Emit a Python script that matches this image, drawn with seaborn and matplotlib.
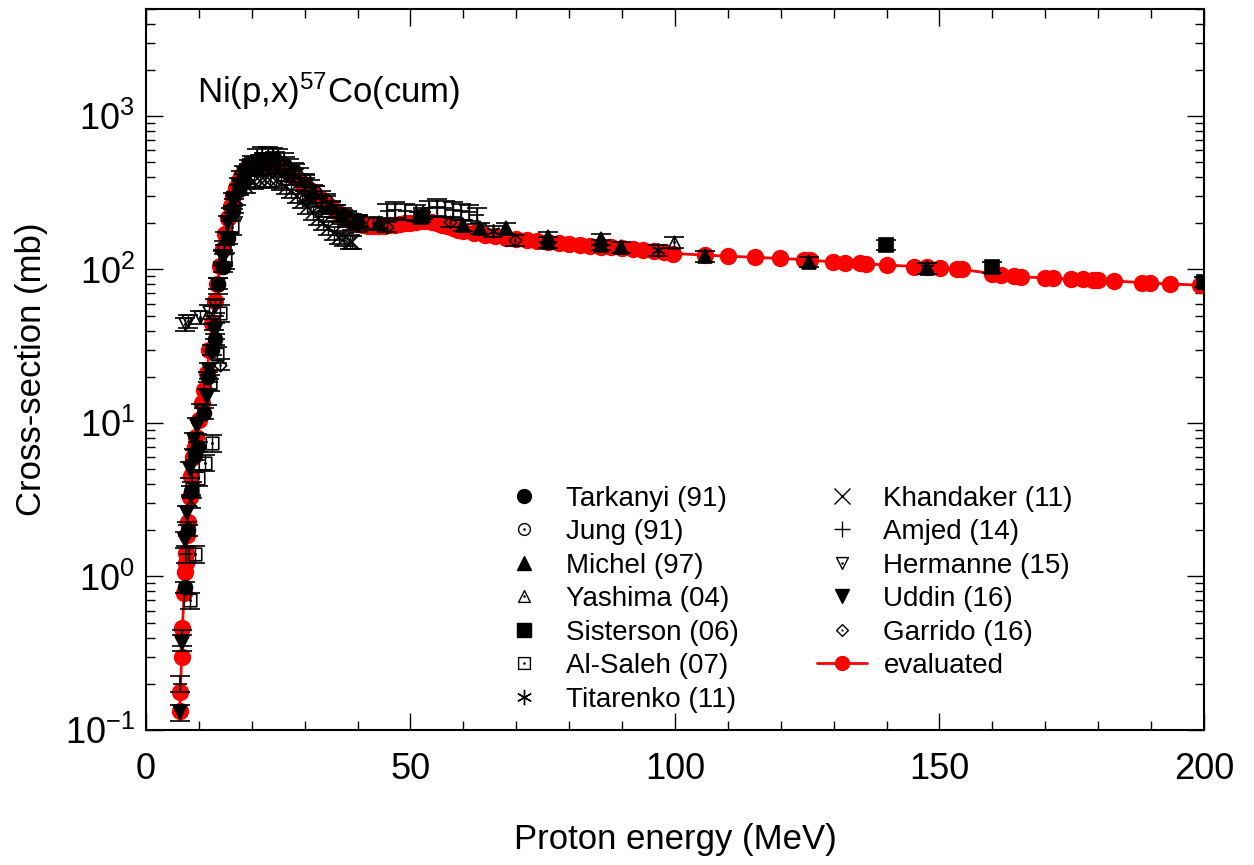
import numpy as np
import pandas as pd
import matplotlib.pyplot as plt
import seaborn as sns
from matplotlib.path import Path
from matplotlib.markers import MarkerStyle
from matplotlib.lines import Line2D
from matplotlib.ticker import MultipleLocator, LogLocator, NullFormatter

# ------------ evaluated curve --------------
eval_E = [6.4, 6.5, 6.75, 6.9, 7.2, 7.4, 7.5, 7.6, 7.8, 8.0, 8.3, 8.6, 8.9, 9.2, 9.5,
          10.0, 10.5, 11.0, 11.5, 12.0, 12.5, 13.0, 13.5, 14.0, 14.5, 15.0, 15.5, 16.0,
          16.5, 17.0, 17.5, 18.0, 18.5, 19.0, 19.5, 20.0, 20.5, 21.0, 21.5, 22.0, 22.5,
          23.0, 23.5, 24.0, 24.5, 25.0, 25.5, 26.0, 26.5, 27.0, 27.5, 28.0, 28.5, 29.0,
          29.5, 30, 31, 32, 33, 34, 35, 36, 37, 38, 39, 40, 41, 42, 43, 44, 45, 46, 47,
          48, 49, 50, 51, 52, 53, 54, 55, 56, 57, 58, 59, 60, 62, 64, 66, 68, 70, 72, 74,
          76, 78, 80, 82, 84, 86, 88, 90, 92, 94, 96, 98, 99.7, 105.7, 110.1, 115.1,
          119.8, 124.3, 125.5, 129.9, 132.1, 135.0, 136.2, 140.0, 145.1, 147.6, 150.1,
          153.3, 154.2, 160.0, 161.6, 164.0, 165.5, 169.9, 171.5, 174.9, 177.2, 179.1,
          180.0, 182.9, 188.2, 189.8, 193.6, 199.2]
eval_xs = [0.132, 0.178, 0.298, 0.465, 0.78, 1.07, 1.22, 1.42, 1.86, 2.27, 3.3, 4.5, 6.0,
           7.0, 8.1, 10.5, 13.4, 16.5, 21, 30, 45, 62, 80, 105, 135, 170, 215, 260, 300,
           340, 375, 405, 430, 450, 465, 475, 483, 488, 492, 494, 495, 494, 491, 487, 482,
           475, 467, 458, 447, 435, 422, 408, 394, 380, 366, 352, 327, 305, 287, 272, 255,
           240, 225, 213, 204, 198, 194, 192, 191, 191, 192, 194, 196, 198, 200, 202, 204,
           206, 207, 205, 201, 196, 191, 186, 182, 178, 172, 168, 164, 161, 158, 156, 153,
           151, 149, 147, 145, 143, 141, 139, 137, 135, 133, 131, 129, 127, 124, 122, 120,
           118, 116, 115, 112, 110.5, 109.5, 108.5, 107, 104.5, 103.5, 102, 100.5, 100,
           94, 92.5, 91, 89.5, 88.2, 87.5, 86.6, 86.2, 85.3, 85.0, 84.2, 82.1, 81.8, 80.3,
           79.2]

# ------------ experimental data --------------
tarkanyi_E = [7.3, 8.0, 8.6, 9.3, 9.9, 10.9, 11.8, 12.5, 13.0, 13.6, 14.6, 15.5, 16.5, 17.5, 18.5, 19.5, 20.5]
tarkanyi_xs = [0.85, 2.0, 3.6, 6.2, 7.0, 11.6, 20, 30, 35, 81, 104, 160, 240, 330, 390, 450, 470]
jung_E = [14.8, 16.7, 18.6, 20.5, 22.4, 24.3, 26.2, 28.2, 30.1, 32.0, 34.0, 36.0, 38.0, 40.0, 43.0]
jung_xs = [140, 260, 380, 470, 520, 530, 490, 440, 380, 320, 280, 240, 215, 205, 200]
michel_E = [27.3, 31.5, 35.0, 37.3, 40.1, 44.0, 52.4, 60.0, 63.1, 68.1, 76.0, 76.0, 86.0, 86.0, 89.8, 105.7, 125.4, 147.7]
michel_xs = [440, 330, 255, 225, 209, 200, 232, 194, 185, 185, 163, 150, 158, 145, 140, 122, 112, 102]
yashima_E = [99.9]
yashima_xs = [151]
sisterson_E = [52.0, 139.9, 160.0, 200.0]
sisterson_xs = [220, 145, 103, 83]
alsaleh_E = [8.4, 8.7, 9.3, 9.9, 11.1, 12.1, 12.4, 13.4, 14.0, 14.9, 16.3]
alsaleh_xs = [0.70, 3.7, 1.40, 4.4, 5.5, 18.3, 7.4, 28, 52, 115, 190]
titarenko_E = [30.6, 33.2, 65.6, 96.8, 147.7]
titarenko_xs = [290, 250, 178, 134, 102]
khandaker_E = [8.6, 10.4, 12.8, 15.0, 17.0, 19.0, 20.5, 21.5, 22.5, 23.5, 24.5, 25.5, 26.5,
               27.5, 28.5, 29.5, 30.5, 31.5, 32.5, 33.5, 34.5, 35.5, 36.5, 37.5, 38.5, 39.0]
khandaker_xs = [3.1, 12, 45, 160, 290, 350, 370, 375, 385, 380, 375, 365, 345, 325, 300,
                280, 255, 235, 215, 200, 185, 172, 163, 157, 152, 150]
amjed_E = [6.4, 6.9, 7.6, 20, 21, 22, 23, 24, 25, 26, 27, 28, 29, 30, 31, 32, 33, 34, 35,
           36, 37, 38, 39, 40, 45.5, 47, 49, 51, 53.5, 55, 56.5, 58, 59.5, 61, 62.5]
amjed_xs = [0.2, 0.4, 1.4, 490, 540, 560, 560, 555, 540, 510, 470, 440, 410, 370, 340, 310,
            290, 270, 250, 235, 225, 215, 205, 200, 240, 245, 240, 235, 250, 255, 250, 245,
            240, 235, 225]
hermanne_E = [7.3, 8.0, 10.2, 12.0, 13.0, 14.5, 16.0, 18.0, 20.0, 22.0, 25.0, 28.0, 30.0]
hermanne_xs = [44, 46, 49, 53, 58, 120, 230, 400, 480, 500, 470, 410, 360]
uddin_E = [6.4, 6.9, 7.4, 7.8, 8.3, 9.1, 9.6, 11.5, 12.0, 13.0, 13.7, 14.5, 15.5, 16.5,
           17.5, 18.5, 19.5, 20.5, 21.5, 22.5, 23.5, 24.5]
uddin_xs = [0.13, 0.37, 1.73, 2.58, 5.0, 7.7, 9.6, 14.8, 22, 40, 79, 120, 200, 280, 350,
            420, 460, 480, 500, 510, 500, 480]
garrido_E = [14.0, 40.0, 45.6, 57.5, 69.7]
garrido_xs = [24, 205, 190, 204, 155]

labels = ["Tarkanyi (91)", "Jung (91)", "Michel (97)", "Yashima (04)", "Sisterson (06)",
          "Al-Saleh (07)", "Titarenko (11)", "Khandaker (11)", "Amjed (14)",
          "Hermanne (15)", "Uddin (16)", "Garrido (16)"]


def dotted(base):
    # open marker with a small dot in the middle
    m = MarkerStyle(base)
    p = m.get_path().transformed(m.get_transform())
    return Path.make_compound_path(p, Path.circle((0, 0), 0.05))


asterisk = (6, 2, 0)
sets = [
    (tarkanyi_E, tarkanyi_xs, "o", True, 0.08),
    (jung_E, jung_xs, dotted("o"), False, 0.10),
    (michel_E, michel_xs, "^", True, 0.08),
    (yashima_E, yashima_xs, dotted("^"), False, 0.08),
    (sisterson_E, sisterson_xs, "s", True, 0.08),
    (alsaleh_E, alsaleh_xs, dotted("s"), False, 0.12),
    (titarenko_E, titarenko_xs, asterisk, False, 0.08),
    (khandaker_E, khandaker_xs, "x", False, 0.10),
    (amjed_E, amjed_xs, "+", False, 0.12),
    (hermanne_E, hermanne_xs, dotted("v"), False, 0.10),
    (uddin_E, uddin_xs, "v", True, 0.12),
    (garrido_E, garrido_xs, dotted("D"), False, 0.08),
]

sns.set_theme(style="ticks")
plt.rcParams['font.family'] = ['Liberation Sans', 'DejaVu Sans']
plt.rcParams['mathtext.fontset'] = 'custom'
plt.rcParams['mathtext.rm'] = 'Liberation Sans'
plt.rcParams['mathtext.it'] = 'Liberation Sans:italic'
plt.rcParams['axes.unicode_minus'] = False
for k in ['text.color', 'axes.labelcolor', 'xtick.color', 'ytick.color', 'axes.edgecolor']:
    plt.rcParams[k] = 'black'

fig = plt.figure(figsize=(12.54, 8.65), dpi=100)
ax = fig.add_axes([0.1164, 0.1561, 0.8437, 0.8339])

df = pd.DataFrame({"E": eval_E, "xs": eval_xs})
sns.lineplot(data=df, x="E", y="xs", ax=ax, color="red", lw=2, marker="o", ms=12.5,
             mec="red", mfc="red", mew=0, estimator=None, sort=False, legend=False,
             zorder=2)

handles = []
for (E, xs, mk, filled, rel), lab in zip(sets, labels):
    xs = np.array(xs)
    ms = 10 if filled else (10 if mk in ("x", "+", asterisk) else 9)
    ax.errorbar(E, xs, yerr=rel * xs, fmt="none", ecolor="black", elinewidth=1,
                capsize=7, capthick=1.2, zorder=3)
    ax.plot(E, xs, ls="none", marker=mk, ms=ms, color="black",
            mfc="black" if filled else "none", mec="black", mew=1.2, zorder=4)
    lms = 10 if filled else (11 if mk in ("x", "+", asterisk) else 8.5)
    handles.append(Line2D([], [], ls="none", marker=mk, ms=lms, color="black",
                          mfc="black" if filled else "none", mec="black", mew=1, label=lab))
handles.append(Line2D([], [], color="red", lw=2, marker="o", ms=10, mfc="red", mec="red",
                      label="evaluated"))

ax.set_yscale("log")
ax.set_xlim(0, 200)
ax.set_ylim(0.1, 5000)
ax.xaxis.set_major_locator(MultipleLocator(50))
ax.xaxis.set_minor_locator(MultipleLocator(10))
ax.yaxis.set_major_locator(LogLocator(base=10, numticks=10))
ax.yaxis.set_minor_locator(LogLocator(base=10, subs=np.arange(2, 10), numticks=20))
ax.yaxis.set_minor_formatter(NullFormatter())
ax.tick_params(which="both", direction="in", top=True, right=True, color="black", width=1)
ax.tick_params(which="major", length=12.5)
ax.tick_params(which="minor", length=6.5)
ax.tick_params(axis="x", labelsize=26, pad=16)
ax.tick_params(axis="y", labelsize=26, pad=8)
for s in ax.spines.values():
    s.set_color("black")
    s.set_linewidth(1.5)

ax.set_xlabel("Proton energy (MeV)", fontsize=25, labelpad=26)
ax.set_ylabel("Cross-section (mb)", fontsize=25, labelpad=12)
ax.text(0.048, 0.885, "Ni(p,x)$^{57}$Co(cum)", transform=ax.transAxes, fontsize=25,
        va="center", ha="left")

ax.legend(handles=handles, ncol=2, frameon=False, fontsize=20, loc="upper left",
          bbox_to_anchor=(0.321, 0.358), borderpad=0, handlelength=1.8,
          handletextpad=0.6, columnspacing=2.8, labelspacing=0.27)

fig.savefig("out.png", dpi=100)
